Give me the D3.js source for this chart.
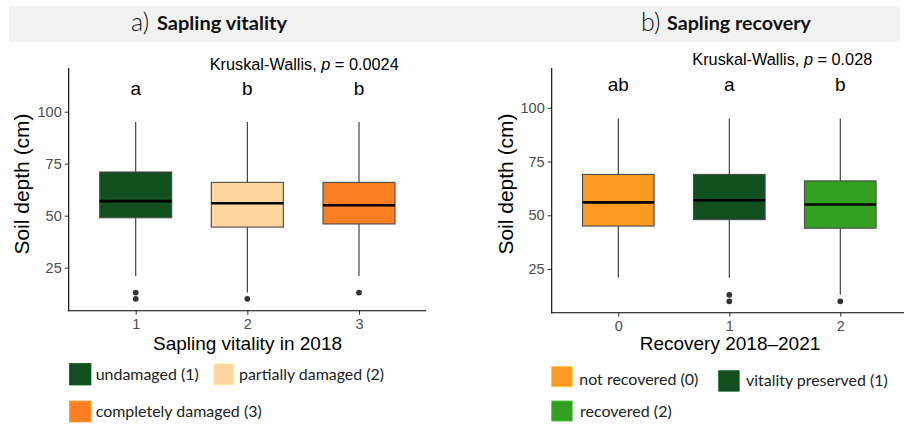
<!DOCTYPE html>
<html>
<head>
<meta charset="utf-8">
<script src="https://cdn.jsdelivr.net/npm/d3@7"></script>
<style>
  html, body { margin: 0; padding: 0; background: #ffffff; }
  svg { display: block; }
</style>
</head>
<body>
<svg id="chart" width="904" height="427"></svg>
<script>
// ---- Soil depth (cm) box statistics by group ----
const vitalityGroups   = ["1", "2", "3"];
const vitalityLower    = [21, 13, 21];
const vitalityQ1       = [49, 44.5, 46];
const vitalityMedian   = [57, 56, 55];
const vitalityQ3       = [71, 66, 66];
const vitalityUpper    = [95, 95, 95];
const vitalityOutliers = [[10, 13], [10], [13]];
const vitalityLetters  = ["a", "b", "b"];
const vitalityLegend   = ["undamaged (1)", "partially damaged (2)", "completely damaged (3)"];
const vitalityPalette  = ["#114f1f", "#fdd6a0", "#fd7f23"];

const recoveryGroups   = ["0", "1", "2"];
const recoveryLower    = [21, 21, 13];
const recoveryQ1       = [45, 48, 44];
const recoveryMedian   = [56, 57, 55];
const recoveryQ3       = [69, 69, 66];
const recoveryUpper    = [95, 95, 95];
const recoveryOutliers = [[], [10, 13], [10]];
const recoveryLetters  = ["ab", "a", "b"];
const recoveryLegend   = ["not recovered (0)", "vitality preserved (1)", "recovered (2)"];
const recoveryPalette  = ["#fd9a22", "#114f1f", "#33a022"];

const yTicks = [25, 50, 75, 100];
const kwVitality = "0.0024";
const kwRecovery = "0.028";

const svg = d3.select("#chart");
const plotFont = "'Liberation Sans', Arial, sans-serif";
const labelFont = "Lato, 'Open Sans', sans-serif";

// heading strip across both panels
svg.append("rect")
  .attr("x", 9).attr("y", 6).attr("width", 891).attr("height", 36)
  .attr("fill", "#f2f2f2");

function heading(x, letter, text, boldLen) {
  const g = svg.append("g");
  g.append("text")
    .attr("x", x).attr("y", 31)
    .attr("font-family", labelFont).attr("font-weight", 300)
    .attr("font-size", 25).attr("fill", "#111")
    .text(letter);
  g.append("text")
    .attr("x", x + 26).attr("y", 30)
    .attr("font-family", labelFont).attr("font-weight", 700)
    .attr("font-size", 18.5).attr("fill", "#111")
    .attr("textLength", boldLen).attr("lengthAdjust", "spacingAndGlyphs")
    .text(text);
}
heading(131, "a)", "Sapling vitality", 130);
heading(641, "b)", "Sapling recovery", 144);

function panel(cfg) {
  const g = svg.append("g");
  const x = d3.scalePoint().domain(cfg.groups).range(cfg.xRange);
  const step = x.step();
  const y = d3.scaleLinear().domain(cfg.yDomain).range(cfg.yRange);
  const boxW = 0.645 * step;

  const stats = cfg.groups.map((k, i) => ({
    key: k, lo: cfg.lower[i], q1: cfg.q1[i], med: cfg.median[i],
    q3: cfg.q3[i], hi: cfg.upper[i], out: cfg.outliers[i],
    letter: cfg.letters[i], color: cfg.palette[i]
  }));

  // axes
  const xAxisY = cfg.yRange[0];
  const x0 = cfg.xRange[0] - 0.6 * step, x1 = cfg.xRange[1] + 0.6 * step;

  const yAxis = d3.axisLeft(y).tickValues(yTicks).tickSize(4).tickPadding(3);
  const gy = g.append("g").attr("transform", `translate(${x0},0)`).call(yAxis);
  gy.select(".domain").remove();
  gy.selectAll(".tick line").attr("stroke", "#333").attr("stroke-width", 1);
  gy.selectAll(".tick text").attr("font-family", plotFont).attr("font-size", 14.5)
    .attr("fill", "#4d4d4d");

  const xAxis = d3.axisBottom(x).tickSize(4).tickPadding(4);
  const gx = g.append("g").attr("transform", `translate(0,${xAxisY})`).call(xAxis);
  gx.select(".domain").remove();
  gx.selectAll(".tick line").attr("stroke", "#333").attr("stroke-width", 1);
  gx.selectAll(".tick text").attr("font-family", plotFont).attr("font-size", 14.5)
    .attr("fill", "#4d4d4d");

  g.append("line").attr("x1", x0).attr("x2", x0)
    .attr("y1", cfg.yRange[1]).attr("y2", xAxisY + 0.5)
    .attr("stroke", "#000").attr("stroke-width", 1.1);
  g.append("line").attr("x1", x0 - 0.5).attr("x2", x1)
    .attr("y1", xAxisY).attr("y2", xAxisY)
    .attr("stroke", "#000").attr("stroke-width", 1.1);

  // boxes
  const box = g.selectAll(".box").data(stats).join("g").attr("class", "box");
  box.append("line")
    .attr("x1", d => x(d.key)).attr("x2", d => x(d.key))
    .attr("y1", d => y(d.hi)).attr("y2", d => y(d.q3))
    .attr("stroke", "#333").attr("stroke-width", 1.1);
  box.append("line")
    .attr("x1", d => x(d.key)).attr("x2", d => x(d.key))
    .attr("y1", d => y(d.q1)).attr("y2", d => y(d.lo))
    .attr("stroke", "#333").attr("stroke-width", 1.1);
  box.append("rect")
    .attr("x", d => x(d.key) - boxW / 2).attr("width", boxW)
    .attr("y", d => y(d.q3)).attr("height", d => y(d.q1) - y(d.q3))
    .attr("fill", d => d.color).attr("stroke", "#4a4a4a").attr("stroke-width", 1.1);
  box.append("line")
    .attr("x1", d => x(d.key) - boxW / 2).attr("x2", d => x(d.key) + boxW / 2)
    .attr("y1", d => y(d.med)).attr("y2", d => y(d.med))
    .attr("stroke", "#000").attr("stroke-width", 2.6);
  box.selectAll("circle").data(d => d.out.map(v => ({ key: d.key, v })))
    .join("circle")
    .attr("cx", d => x(d.key)).attr("cy", d => y(d.v)).attr("r", 2.9)
    .attr("fill", "#333");

  // group letters
  g.selectAll(".letter").data(stats).join("text").attr("class", "letter")
    .attr("x", d => x(d.key)).attr("y", y(108))
    .attr("text-anchor", "middle")
    .attr("font-family", plotFont).attr("font-size", 19).attr("fill", "#000")
    .text(d => d.letter);

  // Kruskal-Wallis annotation
  const kw = g.append("text")
    .attr("x", x(cfg.groups[0]) + 74).attr("y", y(120))
    .attr("font-family", plotFont).attr("font-size", 16.3).attr("fill", "#000");
  kw.append("tspan").text("Kruskal-Wallis, ");
  kw.append("tspan").attr("font-style", "italic").text("p");
  kw.append("tspan").text(" = " + cfg.p);

  // axis titles
  g.append("text")
    .attr("transform", `translate(${cfg.yTitleX},184) rotate(-90)`)
    .attr("text-anchor", "middle")
    .attr("font-family", plotFont).attr("font-size", 21).attr("fill", "#000")
    .text("Soil depth (cm)");
  g.append("text")
    .attr("x", cfg.xTitleX).attr("y", 350)
    .attr("text-anchor", "middle")
    .attr("font-family", plotFont).attr("font-size", 19).attr("fill", "#000")
    .text(cfg.xTitle);

  // legend
  cfg.legend.forEach((lab, i) => {
    const p = cfg.legendPos[i];
    g.append("rect")
      .attr("x", p.sx).attr("y", p.sy).attr("width", p.sw).attr("height", p.sh)
      .attr("fill", cfg.palette[i])
      .attr("stroke", d3.color(cfg.palette[i]).brighter(0.6)).attr("stroke-width", 0.8);
    g.append("text")
      .attr("x", p.tx).attr("y", p.ty).attr("dy", "0.35em")
      .attr("font-family", labelFont).attr("font-size", 16).attr("fill", "#222")
      .attr("textLength", p.tl).attr("lengthAdjust", "spacingAndGlyphs")
      .text(lab);
  });
}

panel({
  groups: vitalityGroups, lower: vitalityLower, q1: vitalityQ1, median: vitalityMedian,
  q3: vitalityQ3, upper: vitalityUpper, outliers: vitalityOutliers,
  letters: vitalityLetters, palette: vitalityPalette, p: kwVitality,
  xRange: [135.7, 359], yDomain: [4.3, 121], yRange: [310.7, 68],
  yTitleX: 29, xTitleX: 247.5, xTitle: "Sapling vitality in 2018",
  legend: vitalityLegend,
  legendPos: [
    { sx: 69.5, sy: 363.5, sw: 21.5, sh: 21.5, tx: 95.7, ty: 374, tl: 103 },
    { sx: 213.5, sy: 363.5, sw: 20.5, sh: 21.5, tx: 239, ty: 374, tl: 145 },
    { sx: 69.5, sy: 401, sw: 21.5, sh: 21, tx: 95.7, ty: 411.5, tl: 166 }
  ]
});

panel({
  groups: recoveryGroups, lower: recoveryLower, q1: recoveryQ1, median: recoveryMedian,
  q3: recoveryQ3, upper: recoveryUpper, outliers: recoveryOutliers,
  letters: recoveryLetters, palette: recoveryPalette, p: kwRecovery,
  xRange: [618.3, 840.3], yDomain: [4.7, 118.5], yRange: [312.7, 68],
  yTitleX: 512.5, xTitleX: 730, xTitle: "Recovery 2018\u20132021",
  legend: recoveryLegend,
  legendPos: [
    { sx: 551.7, sy: 366.7, sw: 20.5, sh: 20, tx: 579.3, ty: 379.3, tl: 119 },
    { sx: 718.7, sy: 370.7, sw: 20.5, sh: 20.5, tx: 746, ty: 380.7, tl: 141.7 },
    { sx: 551.7, sy: 401, sw: 20.5, sh: 20, tx: 580, ty: 411.7, tl: 91.7 }
  ]
});
</script>
</body>
</html>
